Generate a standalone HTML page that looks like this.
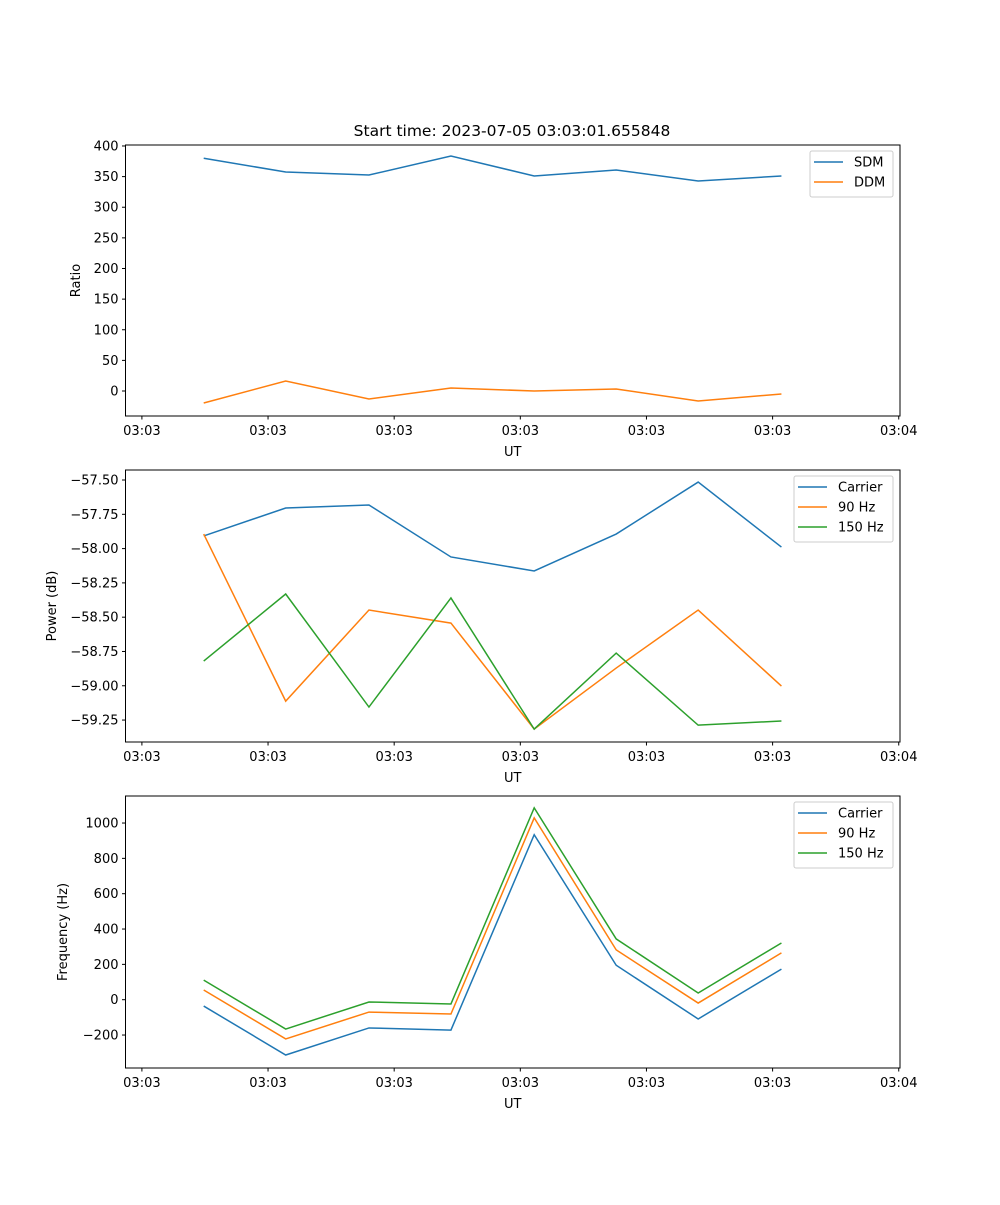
<!DOCTYPE html>
<html><head><meta charset="utf-8"><style>
body{margin:0;background:#fff}
svg text{font-family:"DejaVu Sans","Liberation Sans",sans-serif;font-size:13px;fill:#000}
</style></head><body>
<svg id="fig" width="1000" height="1200" xmlns="http://www.w3.org/2000/svg">
<text x="512" y="136" text-anchor="middle" style="font-size:15.5px">Start time: 2023-07-05 03:03:01.655848</text>
</svg>
<script>
// time (seconds from first sample)
const times = [0, 6.5, 13.1, 19.6, 26.2, 32.7, 39.2, 45.8];
const xTicks = [-4.9, 5.1, 15.1, 25.1, 35.1, 45.1, 55.1];
const xTickLabels = ["03:03","03:03","03:03","03:03","03:03","03:03","03:04"];
// panel 1
const sdm = [380, 357.5, 352.6, 383.7, 351, 360.8, 342.9, 351];
const ddm = [-19.6, 16.3, -13, 4.9, 0, 3.3, -16.3, -4.9];
const ratioTicks = [0, 50, 100, 150, 200, 250, 300, 350, 400];
// panel 2
const powCarrier = [-57.908, -57.704, -57.682, -58.061, -58.163, -57.894, -57.515, -57.989];
const pow90 = [-57.894, -59.112, -58.448, -58.543, -59.316, -58.871, -58.448, -59.002];
const pow150 = [-58.82, -58.331, -59.155, -58.36, -59.316, -58.762, -59.287, -59.257];
const powTicks = [-59.25, -59.00, -58.75, -58.50, -58.25, -58.00, -57.75, -57.50];
// panel 3
const freqCarrier = [-36, -313, -160, -172, 934, 195, -109, 173];
const freq90 = [55, -222, -70, -81, 1029, 282, -19, 265];
const freq150 = [111, -166, -13, -24, 1086, 344, 38, 321];
const freqTicks = [-200, 0, 200, 400, 600, 800, 1000];

const NS = "http://www.w3.org/2000/svg";
const svg = document.getElementById('fig');
function mk(tag, attrs, parent){const e=document.createElementNS(NS,tag);for(const k in attrs)e.setAttribute(k,attrs[k]);(parent||svg).appendChild(e);return e;}
const L=125.5,R=900,xMin=-6.2,xMax=55.2;
const xs=t=>L+(t-xMin)/(xMax-xMin)*(R-L);
function fmt(v,d){const s=Math.abs(v).toFixed(d);return (v<0?"\u2212":"")+s;}

function panel(name,top,bot,yMin,yMax,ticks,dec,ylabel,series,legend){
  const g=mk('g',{});
  
  
  const ys=v=>bot-(v-yMin)/(yMax-yMin)*(bot-top);
  series.forEach(s=>{
    const p=mk('polyline',{points:s.data.map((v,i)=>xs(times[i])+','+ys(v)).join(' '),fill:'none',stroke:s.color,'stroke-width':1.5},g);
    
    
  });
  const fr=mk('rect',{x:L,y:top,width:R-L,height:bot-top,fill:'none',stroke:'#000','stroke-width':1},g);
  
  
  xTicks.forEach((t,i)=>{
    const x=xs(t);
    mk('line',{x1:x,x2:x,y1:bot,y2:bot+3.5,stroke:'#000'},g);
    const tx=mk('text',{x:x,y:bot+19,'text-anchor':'middle'},g);
    tx.textContent=xTickLabels[i];
    
    
  });
  ticks.forEach(v=>{
    const y=ys(v);
    mk('line',{x1:L,x2:L-3.5,y1:y,y2:y,stroke:'#000'},g);
    const tx=mk('text',{x:L-7,y:y+4.5,'text-anchor':'end'},g);
    tx.textContent=fmt(v,dec);
    
    
  });
  const xl=mk('text',{x:(L+R)/2,y:bot+40,'text-anchor':'middle'},g);
  xl.textContent='UT';
  
  
  const yl=mk('text',{x:0,y:0,'text-anchor':'middle',transform:`translate(${legend.ylx},${(top+bot)/2}) rotate(-90)`},g);
  yl.textContent=ylabel;
  
  
  const lg=mk('g',{},g);
  
  
  mk('rect',{x:legend.x,y:top+6,width:legend.w,height:series.length*20+6,rx:2,fill:'#fff','fill-opacity':0.8,stroke:'#ccc'},lg);
  series.forEach((s,i)=>{
    const y=top+17+i*20;
    mk('line',{x1:legend.x+4,x2:legend.x+33,y1:y,y2:y,stroke:s.color,'stroke-width':1.5},lg);
    const t=mk('text',{x:legend.x+44,y:y+4.5},lg);
    t.textContent=s.label;
    
    
  });
}
const B='#1f77b4',O='#ff7f0e',G='#2ca02c';
panel('ratio-panel',145,416,-40.8,401.6,ratioTicks,0,'Ratio',
  [{id:'sdm',data:sdm,color:B,label:'SDM'},{id:'ddm',data:ddm,color:O,label:'DDM'}],{x:810,w:83,ylx:80});
panel('power-panel',470,742,-59.41,-57.427,powTicks,2,'Power (dB)',
  [{id:'carrier',data:powCarrier,color:B,label:'Carrier'},{id:'90hz',data:pow90,color:O,label:'90 Hz'},{id:'150hz',data:pow150,color:G,label:'150 Hz'}],{x:794,w:99,ylx:56});
panel('frequency-panel',796,1068,-386.6,1153,freqTicks,0,'Frequency (Hz)',
  [{id:'carrier',data:freqCarrier,color:B,label:'Carrier'},{id:'90hz',data:freq90,color:O,label:'90 Hz'},{id:'150hz',data:freq150,color:G,label:'150 Hz'}],{x:794,w:99,ylx:67});
</script>
</body></html>
